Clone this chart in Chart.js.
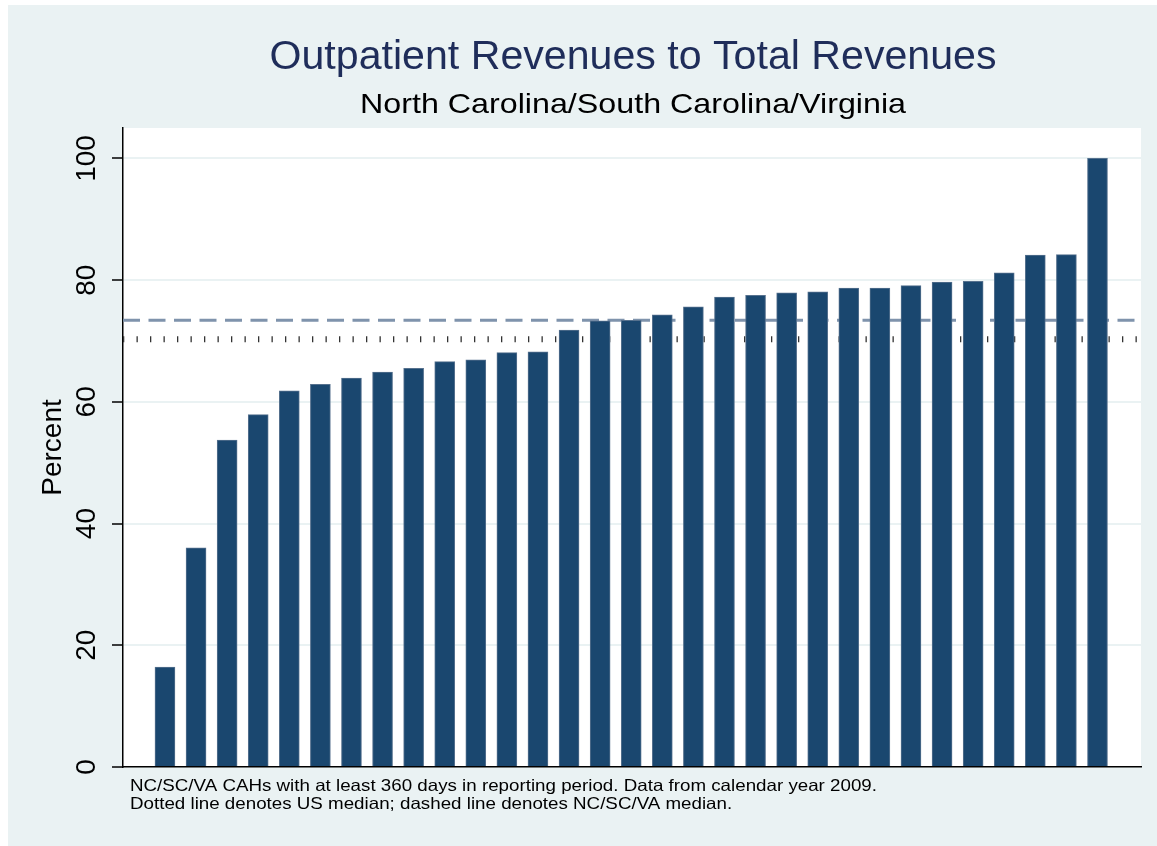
<!DOCTYPE html>
<html>
<head>
<meta charset="utf-8">
<script src="https://cdn.jsdelivr.net/npm/chart.js@4/dist/chart.umd.min.js"></script>
<style>
  html, body { margin: 0; padding: 0; background: #ffffff; }
  canvas { display: block; }
</style>
</head>
<body>
<canvas id="chart" width="1157" height="846"></canvas>
<script>
// hospitals, sorted by outpatient share
const hospitals = [1, 2, 3, 4, 5, 6, 7, 8, 9, 10, 11, 12, 13, 14, 15, 16,
  17, 18, 19, 20, 21, 22, 23, 24, 25, 26, 27, 28, 29, 30, 31];
const outpatientPct = [16.4, 36.0, 53.7, 57.9, 61.8, 62.9, 63.9, 64.9, 65.5,
  66.6, 66.9, 68.1, 68.2, 71.8, 73.3, 73.4, 74.3, 75.6, 77.2, 77.5, 77.9,
  78.1, 78.7, 78.7, 79.1, 79.7, 79.8, 81.2, 84.1, 84.2, 100];
const yTicks = [0, 20, 40, 60, 80, 100];
const stateMedian = 73.4;   // dashed
const usMedian = 70.3;      // dotted

const titleText = "Outpatient Revenues to Total Revenues";
const subtitleText = "North Carolina/South Carolina/Virginia";
const noteLines = [
  "NC/SC/VA CAHs with at least 360 days in reporting period. Data from calendar year 2009.",
  "Dotted line denotes US median; dashed line denotes NC/SC/VA median."
];

const FONT = "'Liberation Sans', Arial, Helvetica, sans-serif";
const BG = "#eaf2f3";

// text drawn with a horizontal stretch so it spans `w` pixels
function stretchText(ctx, text, cx, y, w, align) {
  const natural = ctx.measureText(text).width;
  const k = w ? w / natural : 1;
  ctx.save();
  ctx.translate(cx, y);
  ctx.scale(k, 1);
  ctx.textAlign = align;
  ctx.fillText(text, 0, 0);
  ctx.restore();
  return k;
}

/* background, titles, footnote */
const frame = {
  id: "frame",
  beforeDraw(chart) {
    const { ctx, width, height, chartArea } = chart;
    ctx.save();
    ctx.fillStyle = "#ffffff";
    ctx.fillRect(0, 0, width, height);
    ctx.fillStyle = BG;
    ctx.fillRect(8, 5, width - 8, height - 5);
    ctx.fillStyle = "#ffffff";
    ctx.fillRect(chartArea.left, chartArea.top,
      chartArea.right - chartArea.left, chartArea.bottom - chartArea.top);
    ctx.restore();
  },
  afterDraw(chart) {
    const { ctx, chartArea } = chart;
    const cx = (chartArea.left + chartArea.right) / 2 + 1;
    ctx.save();
    ctx.textBaseline = "alphabetic";

    ctx.fillStyle = "#1f2d5a";
    ctx.font = `41px ${FONT}`;
    stretchText(ctx, titleText, cx, 69, 727, "center");

    ctx.fillStyle = "#000";
    ctx.font = `28px ${FONT}`;
    stretchText(ctx, subtitleText, cx, 113, 546, "center");

    ctx.font = `16.5px ${FONT}`;
    const k = 747 / ctx.measureText(noteLines[0]).width;
    noteLines.forEach((t, i) => {
      ctx.save();
      ctx.translate(130, 791 + i * 18);
      ctx.scale(k, 1);
      ctx.fillText(t, 0, 0);
      ctx.restore();
    });
    ctx.restore();
  }
};

/* median reference lines, behind the bars */
const medians = {
  id: "medians",
  beforeDatasetsDraw(chart) {
    const { ctx, chartArea, scales } = chart;
    const yS = scales.y.getPixelForValue(stateMedian);
    const yU = scales.y.getPixelForValue(usMedian);
    ctx.save();
    ctx.beginPath();
    ctx.setLineDash([17, 8.5]);
    ctx.strokeStyle = "#7f93ac";
    ctx.lineWidth = 3;
    ctx.moveTo(chartArea.left, yS);
    ctx.lineTo(chartArea.right, yS);
    ctx.stroke();

    ctx.beginPath();
    ctx.setLineDash([1.3, 12.2]);
    ctx.strokeStyle = "#333";
    ctx.lineWidth = 6;
    ctx.moveTo(chartArea.left, yU);
    ctx.lineTo(chartArea.right, yU);
    ctx.stroke();
    ctx.restore();
  }
};

new Chart(document.getElementById("chart"), {
  type: "bar",
  data: {
    datasets: [{
      data: hospitals.map((h, i) => ({ x: h, y: outpatientPct[i] })),
      backgroundColor: "#1a476f",
      borderColor: "#56718e",
      borderWidth: 1,
      barThickness: 20
    }]
  },
  options: {
    responsive: false,
    animation: false,
    devicePixelRatio: 1,
    layout: { padding: { left: 0, right: 16, top: 128, bottom: 0 } },
    plugins: {
      legend: { display: false },
      tooltip: { enabled: false },
      title: { display: false },
      subtitle: { display: false }
    },
    scales: {
      x: {
        type: "linear",
        offset: false,
        min: -0.35,
        max: 32.4,
        ticks: { display: false },
        grid: { display: false },
        border: { display: true, color: "#000", width: 1.5 },
        afterFit: s => { s.height = 79; }
      },
      y: {
        min: 0,
        max: 105,
        afterBuildTicks: s => { s.ticks = yTicks.map(v => ({ value: v })); },
        ticks: {
          color: "#000",
          font: { family: FONT, size: 28 },
          minRotation: 90,
          maxRotation: 90,
          crossAlign: "center",
          padding: 1
        },
        grid: {
          color: BG,
          lineWidth: 2,
          tickColor: "#000",
          tickWidth: 1.5,
          tickLength: 11
        },
        border: { display: true, color: "#000", width: 1.5 },
        title: {
          display: true,
          text: "Percent",
          color: "#000",
          font: { family: FONT, size: 28, lineHeight: 1.2 },
          padding: { top: 36, bottom: 0 }
        },
        afterFit: s => { s.width = 123; }
      }
    }
  },
  plugins: [frame, medians]
});
</script>
</body>
</html>
